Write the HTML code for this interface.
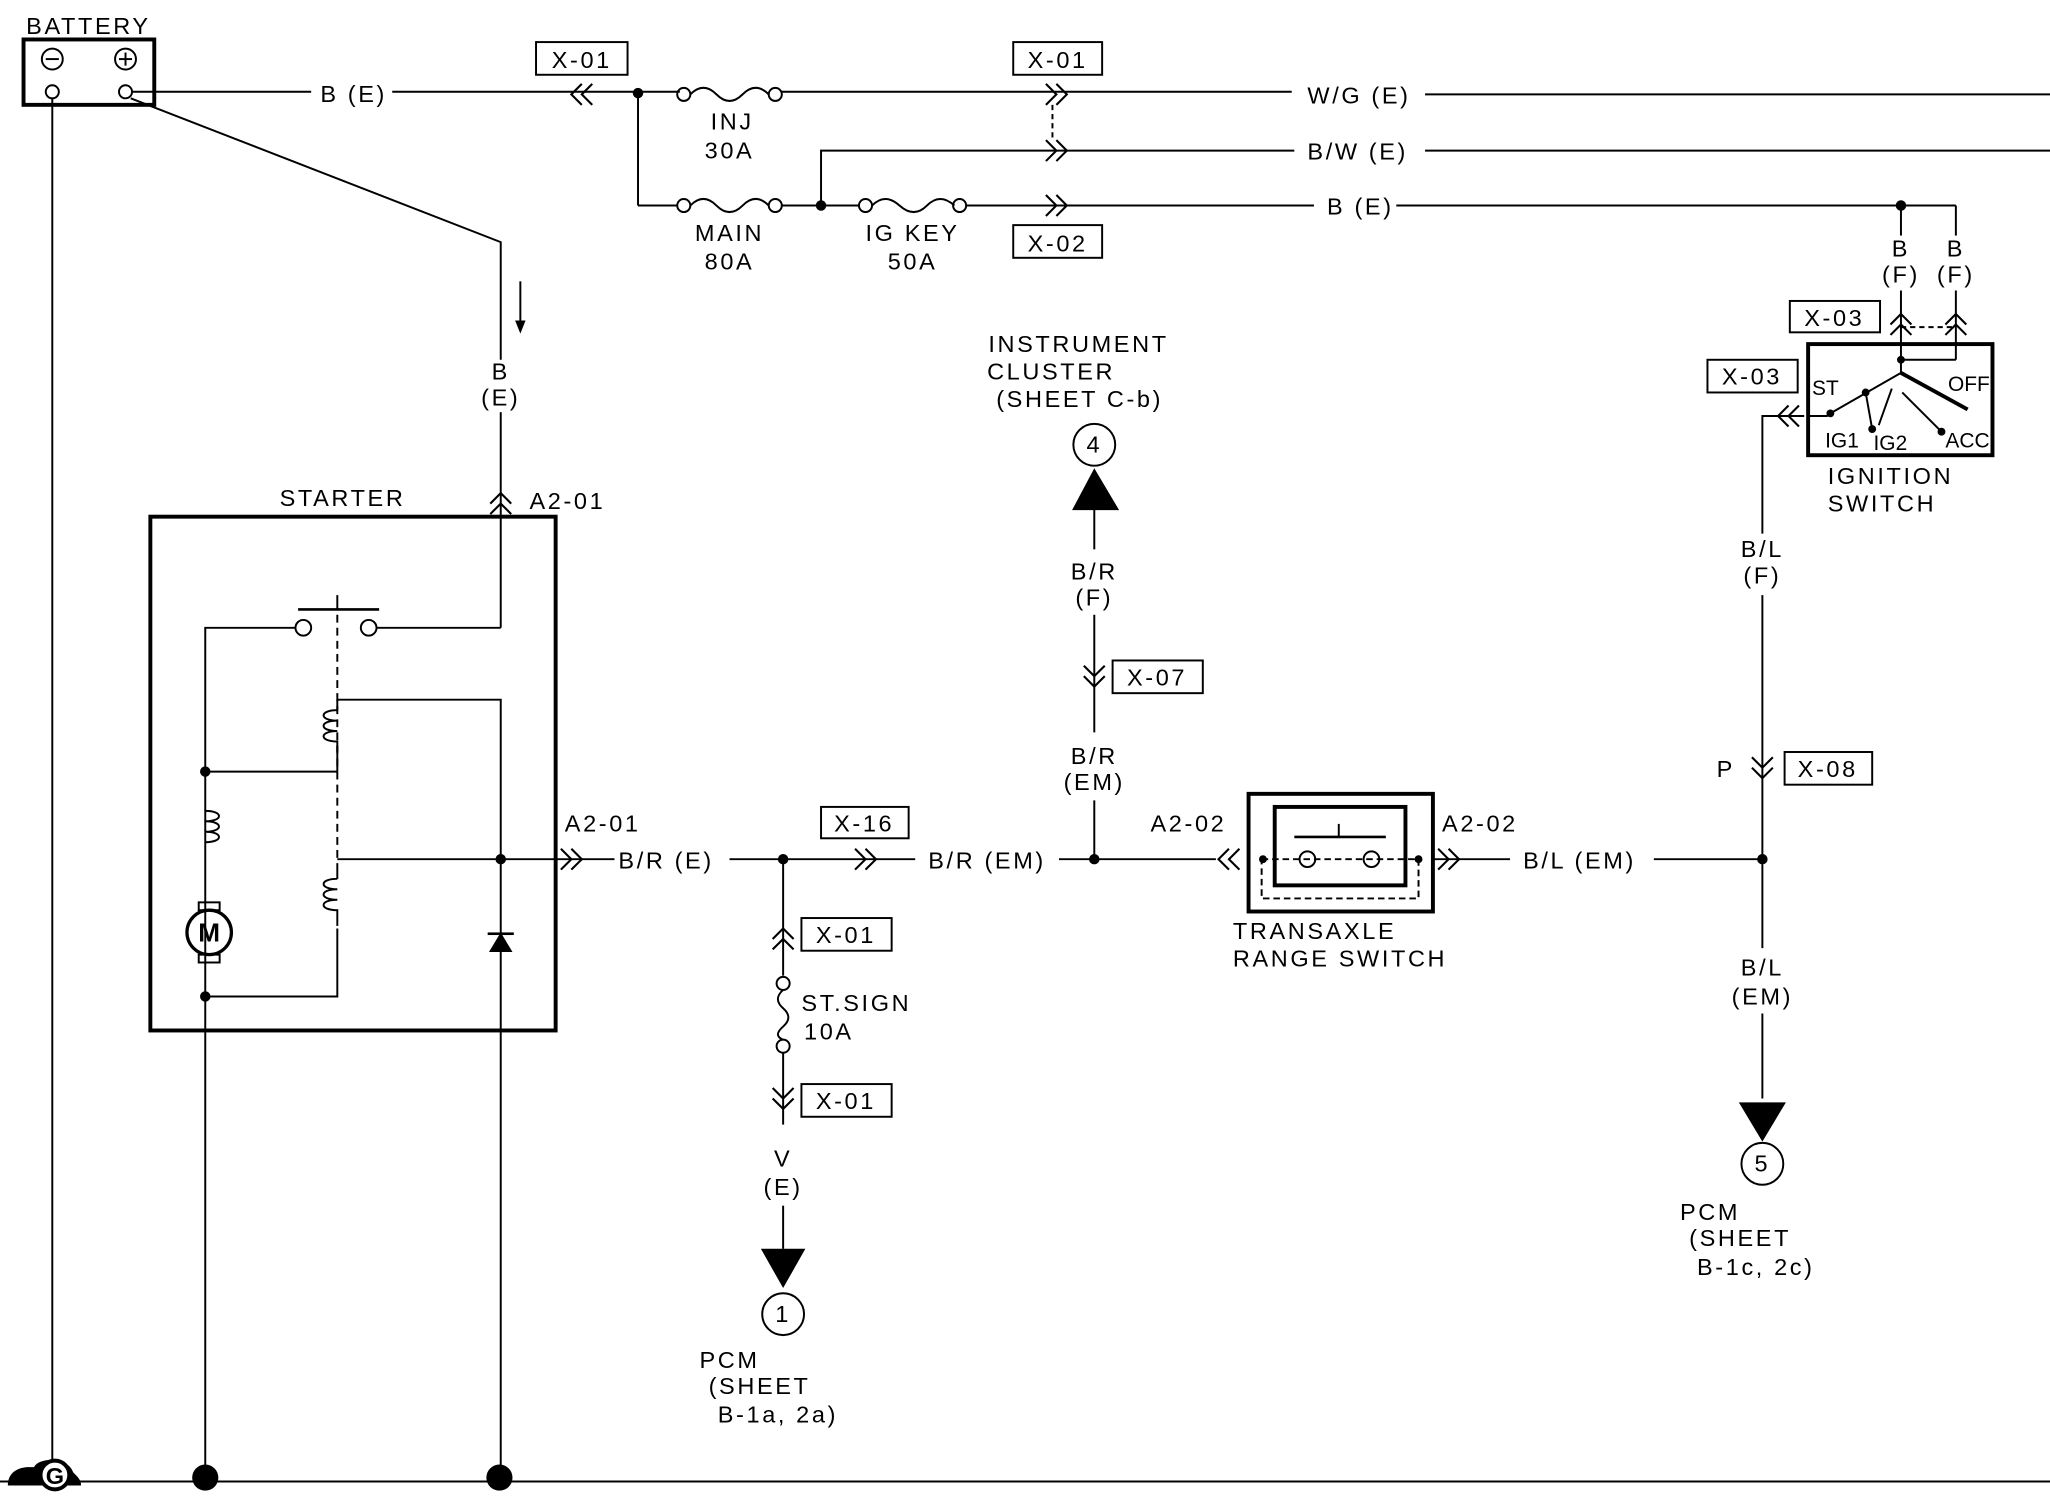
<!DOCTYPE html>
<html><head><meta charset="utf-8"><style>
html,body{margin:0;padding:0;background:#fff;}
svg{display:block;}
text{font-family:"Liberation Sans",sans-serif;font-size:18px;fill:#000;letter-spacing:2px;}
.c{text-anchor:middle;}
</style></head><body>
<svg width="2050" height="1504" viewBox="0 0 1568 1150" xmlns="http://www.w3.org/2000/svg">
<defs>
<g id="chev"><path d="M-8,-8 L0,0 L8,-8 M-8,0 L0,8 L8,0" fill="none" stroke="#000" stroke-width="1.6"/></g>
</defs>
<g stroke="#000" stroke-width="1.5" fill="none">
<rect x="18" y="30" width="100" height="50" stroke-width="3"/>
<circle cx="40" cy="45" r="8"/><line x1="35" y1="45" x2="45" y2="45"/>
<circle cx="96" cy="45" r="8"/><line x1="91" y1="45" x2="101" y2="45"/><line x1="96" y1="40" x2="96" y2="50"/>
<circle cx="40" cy="70" r="5"/><circle cx="96" cy="70" r="5"/>
<line x1="101" y1="70" x2="238" y2="70"/>
<line x1="300" y1="70" x2="520" y2="70"/>
<line x1="598" y1="70" x2="988" y2="70"/>
<line x1="1090" y1="72" x2="1568" y2="72"/>
<line x1="40" y1="75" x2="40" y2="1133"/>
<line x1="0" y1="1133" x2="1568" y2="1133"/>
<polyline points="100,75 383,185 383,275"/>
<line x1="398" y1="215" x2="398" y2="250"/>
<line x1="383" y1="315" x2="383" y2="480"/>
<line x1="488" y1="70" x2="488" y2="157"/><line x1="488" y1="157" x2="518" y2="157"/>
<circle cx="523" cy="72" r="5"/><circle cx="593" cy="72" r="5"/>
<path d="M528,72 q10,-10 20,0 t20,0 t20,0"/>
<circle cx="523" cy="157" r="5"/><circle cx="593" cy="157" r="5"/>
<path d="M528,157 q10,-10 20,0 t20,0 t20,0"/>
<line x1="598" y1="157" x2="657" y2="157"/>
<circle cx="662" cy="157" r="5"/><circle cx="734" cy="157" r="5"/>
<path d="M667,157 q10,-10 21,0 t21,0 t21,0"/>
<line x1="739" y1="157" x2="1005" y2="157"/>
<line x1="1068" y1="157" x2="1496" y2="157"/>
<polyline points="628,157 628,115 990,115"/>
<line x1="1090" y1="115" x2="1568" y2="115"/>
<line x1="805" y1="80" x2="805" y2="106" stroke-dasharray="4,3"/>
<rect x="410" y="32" width="70" height="25"/>
<rect x="775" y="32" width="68" height="25"/>
<rect x="775" y="172" width="68" height="25"/>
<rect x="115" y="395" width="310" height="393" stroke-width="3"/>
<circle cx="232" cy="480" r="6"/><circle cx="282" cy="480" r="6"/>
<line x1="228" y1="466" x2="290" y2="466" stroke-width="2"/><line x1="258" y1="455" x2="258" y2="466"/>
<line x1="288" y1="480" x2="383" y2="480"/>
<line x1="258" y1="470" x2="258" y2="660" stroke-dasharray="6,4"/>
<polyline points="226,480 157,480 157,1130"/>
<line x1="157" y1="590" x2="258" y2="590"/>
<path d="M258,535 v8 M258,543 c-14,0 -14,8 0,8 c-14,0 -14,8 0,8 c-14,0 -14,8 0,8 v8"/>
<path d="M258,660 v12 M258,672 c-14,0 -14,8 0,8 c-14,0 -14,8 0,8 c-14,0 -14,8 0,8 v12"/>
<path d="M157,620 c14,0 14,8 0,8 c14,0 14,8 0,8 c14,0 14,8 0,8"/>
<line x1="258" y1="570" x2="258" y2="590"/>
<polyline points="258,535 383,535 383,1130"/>
<line x1="258" y1="657" x2="470" y2="657"/>
<polyline points="258,710 258,762 157,762"/>
<circle cx="160" cy="713" r="17" stroke-width="2.5"/>
<rect x="152" y="690" width="16" height="6"/><rect x="152" y="730" width="16" height="6"/>
<line x1="558" y1="657" x2="700" y2="657"/>
<line x1="810" y1="657" x2="930" y2="657"/>
<rect x="628" y="617" width="67" height="24"/>
<line x1="599" y1="657" x2="599" y2="746"/>
<rect x="613" y="702" width="69" height="25"/>
<circle cx="599" cy="752" r="5"/><circle cx="599" cy="800" r="5"/>
<path d="M599,757 q-8,7 0,14 t0,14 t0,10"/>
<line x1="599" y1="805" x2="599" y2="860"/>
<rect x="613" y="829" width="69" height="25"/>
<line x1="599" y1="922" x2="599" y2="955"/>
<circle cx="599" cy="1005" r="16"/>
<line x1="837" y1="657" x2="837" y2="612"/>
<line x1="837" y1="560" x2="837" y2="470"/>
<rect x="851" y="505" width="69" height="25"/>
<line x1="837" y1="420" x2="837" y2="388"/>
<circle cx="837" cy="340" r="16"/>
<rect x="955" y="607" width="141" height="90" stroke-width="3"/>
<rect x="975" y="617" width="100" height="60" stroke-width="3"/>
<rect x="965" y="657" width="120" height="30" stroke-dasharray="5,3"/>
<circle cx="1000" cy="657" r="6"/><circle cx="1049" cy="657" r="6"/>
<line x1="990" y1="640" x2="1060" y2="640" stroke-width="2"/><line x1="1024" y1="630" x2="1024" y2="640"/>
<line x1="1096" y1="657" x2="1155" y2="657"/>
<line x1="1265" y1="657" x2="1348" y2="657"/>
<line x1="1348" y1="455" x2="1348" y2="725"/>
<line x1="1348" y1="775" x2="1348" y2="840"/>
<rect x="1365" y="575" width="67" height="25"/>
<circle cx="1348" cy="890" r="16"/>
<polyline points="1348,408 1348,318 1380,318"/>
<rect x="1306" y="275" width="69" height="25"/>
<rect x="1383" y="263" width="141" height="85" stroke-width="3"/>
<rect x="1369" y="230" width="69" height="24"/>
<line x1="1454" y1="157" x2="1454" y2="180"/>
<polyline points="1496,157 1496,180"/>
<line x1="1454" y1="222" x2="1454" y2="275"/><line x1="1496" y1="222" x2="1496" y2="275"/>
<line x1="1454" y1="250" x2="1496" y2="250" stroke-dasharray="4,3"/>
<line x1="1454" y1="275" x2="1496" y2="275"/>
<line x1="1454" y1="275" x2="1454" y2="285"/>
<line x1="1454" y1="285" x2="1505" y2="313" stroke-width="3"/>
<line x1="1400" y1="316" x2="1454" y2="285"/>
<line x1="1427" y1="300" x2="1432" y2="328"/>
<line x1="1447" y1="297" x2="1437" y2="325"/>
<line x1="1455" y1="300" x2="1485" y2="330"/>
<line x1="1384" y1="318" x2="1398" y2="318"/>
</g>
<g>
<use href="#chev" transform="translate(445,72) rotate(90)"/>
<use href="#chev" transform="translate(808,72) rotate(-90)"/>
<use href="#chev" transform="translate(808,115) rotate(-90)"/>
<use href="#chev" transform="translate(808,157) rotate(-90)"/>
<use href="#chev" transform="translate(383,385) rotate(180)"/>
<use href="#chev" transform="translate(437,657) rotate(-90)"/>
<use href="#chev" transform="translate(662,657) rotate(-90)"/>
<use href="#chev" transform="translate(599,718) rotate(180)"/>
<use href="#chev" transform="translate(599,840)"/>
<use href="#chev" transform="translate(837,517)"/>
<use href="#chev" transform="translate(940,657) rotate(90)"/>
<use href="#chev" transform="translate(1108,657) rotate(-90)"/>
<use href="#chev" transform="translate(1348,587)"/>
<use href="#chev" transform="translate(1368,318) rotate(90)"/>
<use href="#chev" transform="translate(1454,248) rotate(180)"/>
<use href="#chev" transform="translate(1496,248) rotate(180)"/>
</g>
<g fill="#000">
<circle cx="488" cy="71" r="4"/><circle cx="628" cy="157" r="4"/><circle cx="1454" cy="157" r="4"/>
<circle cx="157" cy="590" r="4"/><circle cx="157" cy="762" r="4"/><circle cx="383" cy="657" r="4"/>
<circle cx="599" cy="657" r="4"/><circle cx="837" cy="657" r="4"/><circle cx="1348" cy="657" r="4"/>
<circle cx="157" cy="1130" r="10"/><circle cx="382" cy="1130" r="10"/>
<circle cx="966" cy="657" r="3"/><circle cx="1085" cy="657" r="3"/>
<circle cx="1454" cy="275" r="3"/><circle cx="1400" cy="316" r="3"/><circle cx="1427" cy="300" r="3"/><circle cx="1432" cy="328" r="3"/><circle cx="1485" cy="330" r="3"/>
<polygon points="582,955 616,955 599,985"/>
<polygon points="820,390 856,390 837,358"/>
<polygon points="1330,843 1366,843 1348,873"/>
<polygon points="374,728 392,728 383,713"/>
<rect x="373" y="713" width="20" height="2"/>
<polygon points="398,255 394,245 402,245"/>
<path d="M6,1136 c0,-10 8,-14 16,-14 l4,0 c4,-8 26,-8 30,4 c4,4 6,6 6,10 z"/>
</g>
<circle cx="42" cy="1128" r="11" fill="#fff" stroke="#000" stroke-width="3"/>
<text x="42" y="1135" class="c" style="font-weight:bold;font-size:18px;letter-spacing:0">G</text>
<text x="160" y="720" class="c" style="font-weight:bold;font-size:20px;letter-spacing:0">M</text>
<g>
<text x="20" y="26">BATTERY</text>
<text x="245" y="78">B (E)</text>
<text x="445" y="52" class="c">X-01</text>
<text x="809" y="52" class="c">X-01</text>
<text x="809" y="192" class="c">X-02</text>
<text x="560" y="99" class="c">INJ</text>
<text x="558" y="121" class="c">30A</text>
<text x="558" y="184" class="c">MAIN</text>
<text x="558" y="206" class="c">80A</text>
<text x="698" y="184" class="c">IG KEY</text>
<text x="698" y="206" class="c">50A</text>
<text x="1000" y="79">W/G (E)</text>
<text x="1000" y="122">B/W (E)</text>
<text x="1015" y="164">B (E)</text>
<text x="1454" y="196" class="c">B</text><text x="1454" y="216" class="c">(F)</text>
<text x="1496" y="196" class="c">B</text><text x="1496" y="216" class="c">(F)</text>
<text x="1403" y="249" class="c">X-03</text>
<text x="1340" y="294" class="c">X-03</text>
<text x="1386" y="302" style="font-size:16px;letter-spacing:0">ST</text>
<text x="1490" y="299" style="font-size:16px;letter-spacing:0">OFF</text>
<text x="1396" y="342" style="font-size:16px;letter-spacing:0">IG1</text>
<text x="1433" y="344" style="font-size:16px;letter-spacing:0">IG2</text>
<text x="1488" y="342" style="font-size:16px;letter-spacing:0">ACC</text>
<text x="1398" y="370">IGNITION</text>
<text x="1398" y="391">SWITCH</text>
<text x="383" y="290" class="c">B</text><text x="383" y="310" class="c">(E)</text>
<text x="262" y="387" class="c">STARTER</text>
<text x="405" y="389">A2-01</text>
<text x="432" y="636">A2-01</text>
<text x="473" y="664">B/R (E)</text>
<text x="661" y="636" class="c">X-16</text>
<text x="710" y="664">B/R (EM)</text>
<text x="647" y="721" class="c">X-01</text>
<text x="613" y="773">ST.SIGN</text>
<text x="615" y="795">10A</text>
<text x="647" y="848" class="c">X-01</text>
<text x="599" y="892" class="c">V</text><text x="599" y="914" class="c">(E)</text>
<text x="599" y="1011" class="c">1</text>
<text x="535" y="1046">PCM</text><text x="542" y="1066">(SHEET</text><text x="549" y="1088">B-1a, 2a)</text>
<text x="756" y="269">INSTRUMENT</text><text x="755" y="290">CLUSTER</text><text x="762" y="311">(SHEET  C-b)</text>
<text x="837" y="346" class="c">4</text>
<text x="837" y="443" class="c">B/R</text><text x="837" y="463" class="c">(F)</text>
<text x="885" y="524" class="c">X-07</text>
<text x="837" y="584" class="c">B/R</text><text x="837" y="604" class="c">(EM)</text>
<text x="880" y="636">A2-02</text><text x="1103" y="636">A2-02</text>
<text x="943" y="718">TRANSAXLE</text><text x="943" y="739">RANGE SWITCH</text>
<text x="1165" y="664">B/L (EM)</text>
<text x="1348" y="426" class="c">B/L</text><text x="1348" y="446" class="c">(F)</text>
<text x="1320" y="594" class="c">P</text>
<text x="1398" y="594" class="c">X-08</text>
<text x="1348" y="746" class="c">B/L</text><text x="1348" y="768" class="c">(EM)</text>
<text x="1348" y="896" class="c">5</text>
<text x="1285" y="933">PCM</text><text x="1292" y="953">(SHEET</text><text x="1298" y="975">B-1c, 2c)</text>
</g>
</svg>
</body></html>
